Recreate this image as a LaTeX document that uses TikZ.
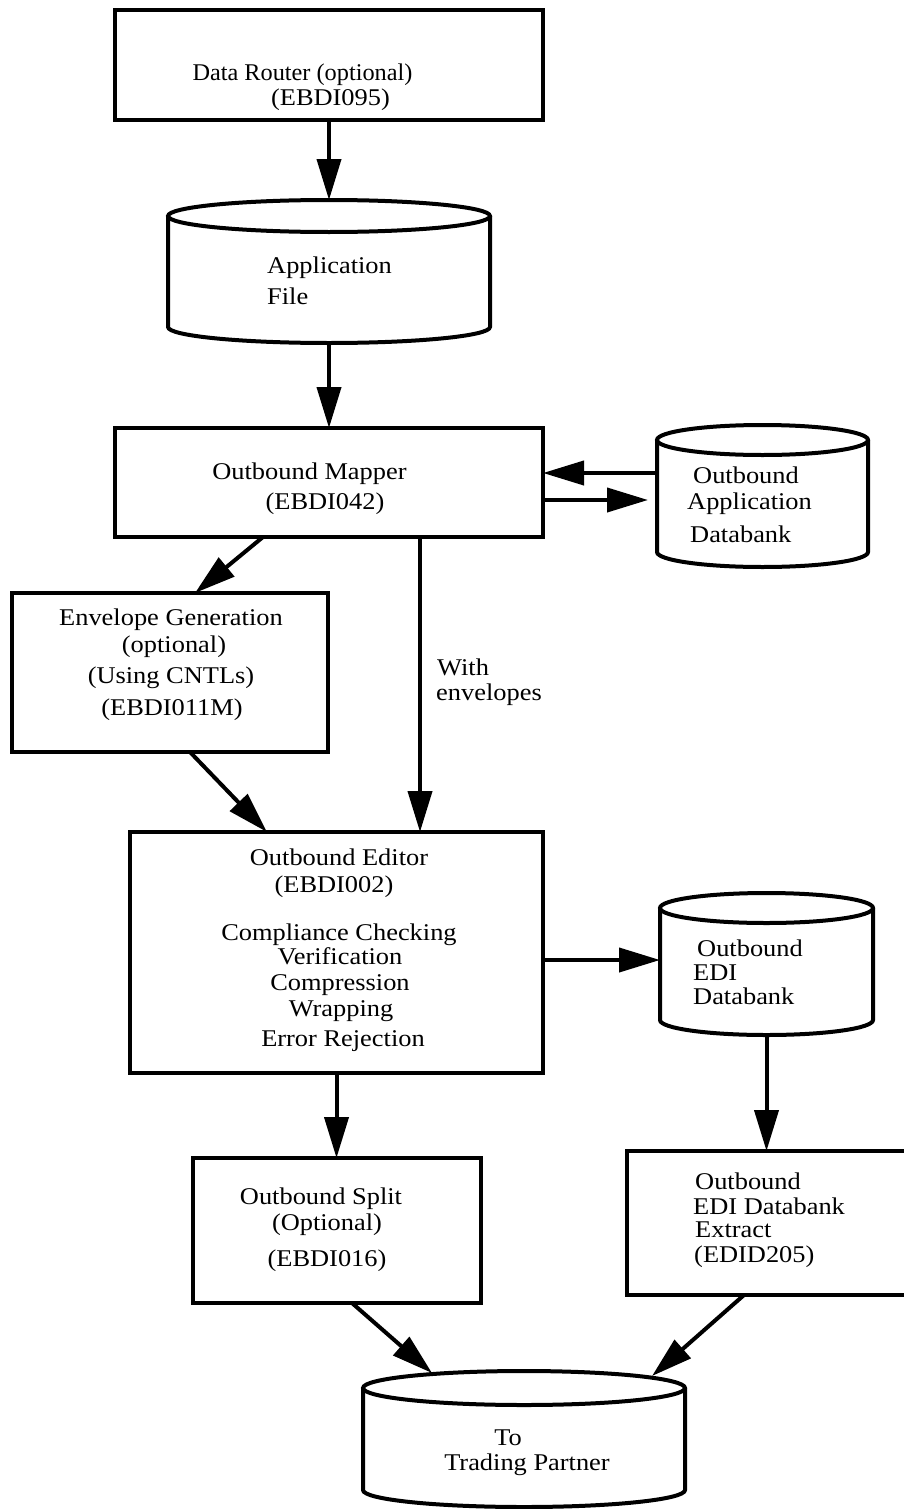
\documentclass[tikz,border=0pt]{standalone}
\usepackage{fontspec}
\setmainfont{Liberation Serif}[FakeStretch=1.1]
\usetikzlibrary{arrows.meta}

% drum-shaped data store: #1 name, #2 centre x, #3 top rim y, #4 bottom rim y,
% #5 half width, #6 rim radius (y values measured downwards)
\newcommand\drum[6]{%
  \node[inner sep=0, outer sep=0, minimum width={2*#5}, minimum height={#4-#3+2*#6}]
    (#1) at (#2, {-(#3+#4)/2}) {};
  \draw[lw] (#2-#5, -#3) -- (#2-#5, -#4)
    arc[start angle=180, end angle=360, x radius=#5, y radius=#6] -- (#2+#5, -#3);
  \draw[lw] (#2, -#3) ellipse [x radius=#5, y radius=#6];
}

\begin{document}
\begin{tikzpicture}[x=1pt, y=1pt,
  lw/.style={line width=4pt},
  box/.style={draw, line width=4pt, rectangle, inner sep=0, outer sep=0},
  arr/.style={line width=4pt, -{Triangle[length=41pt, width=24pt]}},
  txt/.style={anchor=base, inner sep=0, font=\fontsize{24}{25}\selectfont},
  ltxt/.style={txt, anchor=base west}]

\useasboundingbox (0,0) rectangle (903,-1509);

% process boxes
\node[box, minimum width=428pt, minimum height=110pt] (router)   at (329,-65) {};
\node[box, minimum width=428pt, minimum height=109pt] (mapper)   at (329,-482.5) {};
\node[box, minimum width=316pt, minimum height=159pt] (envelope) at (170,-672.5) {};
\node[box, minimum width=413pt, minimum height=241pt] (editor)   at (336.5,-952.5) {};
\node[box, minimum width=288pt, minimum height=145pt] (split)    at (337,-1230.5) {};
\node[box, minimum width=280pt, minimum height=144pt] (extract)  at (767,-1223) {};

% data stores
\drum{appfile}{329}{216}{327}{161}{16}
\drum{oad}{762.5}{440}{552}{105.5}{15}
\drum{edi}{766.5}{908}{1020}{106.5}{15}
\drum{partner}{524}{1388}{1490}{161}{17}

% texts
\node[txt] (r1) at (302.5,-81) {\scalebox{0.92}[1]{Data Router (optional)}};
\node[txt] (r2) at (330.5,-106) {(EBDI095)};

\node[ltxt] (a1) at (267,-273) {Application};
\node[ltxt] (a2) at (267,-304) {File};

\node[txt] (m1) at (309.5,-479) {Outbound Mapper};
\node[txt] (m2) at (325,-509) {(EBDI042)};

\node[ltxt] (o1) at (693,-483) {Outbound};
\node[ltxt] (o2) at (687,-509) {Application};
\node[ltxt] (o3) at (690,-542) {Databank};

\node[txt] (e1) at (171,-625) {Envelope Generation};
\node[txt] (e2) at (174,-652) {(optional)};
\node[txt] (e3) at (171,-683) {(Using CNTLs)};
\node[txt] (e4) at (172,-715) {(EBDI011M)};

\node[ltxt] (w1) at (437,-675) {With};
\node[ltxt] (w2) at (436,-700) {envelopes};

\node[txt] (d1) at (339,-865) {Outbound Editor};
\node[txt] (d2) at (334,-892) {(EBDI002)};
\node[txt] (d3) at (339,-940) {Compliance Checking};
\node[txt] (d4) at (340,-964) {Verification};
\node[txt] (d5) at (340,-990) {Compression};
\node[txt] (d6) at (341,-1016) {Wrapping};
\node[txt] (d7) at (343,-1046) {Error Rejection};

\node[ltxt] (i1) at (697,-956) {Outbound};
\node[ltxt] (i2) at (693,-980) {EDI};
\node[ltxt] (i3) at (693,-1004) {Databank};

\node[ltxt] (x1) at (695,-1189) {Outbound};
\node[ltxt] (x2) at (693,-1214) {EDI Databank};
\node[ltxt] (x3) at (695,-1237) {Extract};
\node[ltxt] (x4) at (694,-1262) {(EDID205)};

\node[txt] (s1) at (321,-1204) {Outbound Split};
\node[txt] (s2) at (327,-1230) {(Optional)};
\node[txt] (s3) at (327,-1266) {(EBDI016)};

\node[txt] (p1) at (508,-1445) {To};
\node[txt] (p2) at (527,-1470) {Trading Partner};

% connectors
\draw[arr] (router.south) -- (appfile.north);
\draw[arr] (appfile.south) -- (mapper.north);

\path ([yshift=23pt]oad.west) coordinate (oadL);
\draw[arr] (oadL) -- (oadL -| mapper.east);
\path ([yshift=-17.5pt]mapper.east) coordinate (mapR);
\draw[arr, shorten >=9pt] (mapR) -- (mapR -| oad.west);

\draw[arr] ([xshift=-66pt]mapper.south) -- ([xshift=25pt]envelope.north);
\draw[arr] ([xshift=20pt]envelope.south) -- ([xshift=-69.5pt]editor.north);

\path ([xshift=91pt]mapper.south) coordinate (mapD);
\draw[arr] (mapD) -- (mapD |- editor.north);

\path ([yshift=-7.5pt]editor.east) coordinate (edR);
\draw[arr] (edR) -- (edR -| edi.west);

\draw[arr] (edi.south) -- (edi.south |- extract.north);
\draw[arr] (editor.south) -- (editor.south |- split.north);

\draw[arr] ([xshift=15pt]split.south) -- ([xshift=-92pt, yshift=-2pt]partner.north);
\draw[arr] ([xshift=-23pt]extract.south) -- ([xshift=128pt, yshift=-5pt]partner.north);

\end{tikzpicture}
\end{document}
